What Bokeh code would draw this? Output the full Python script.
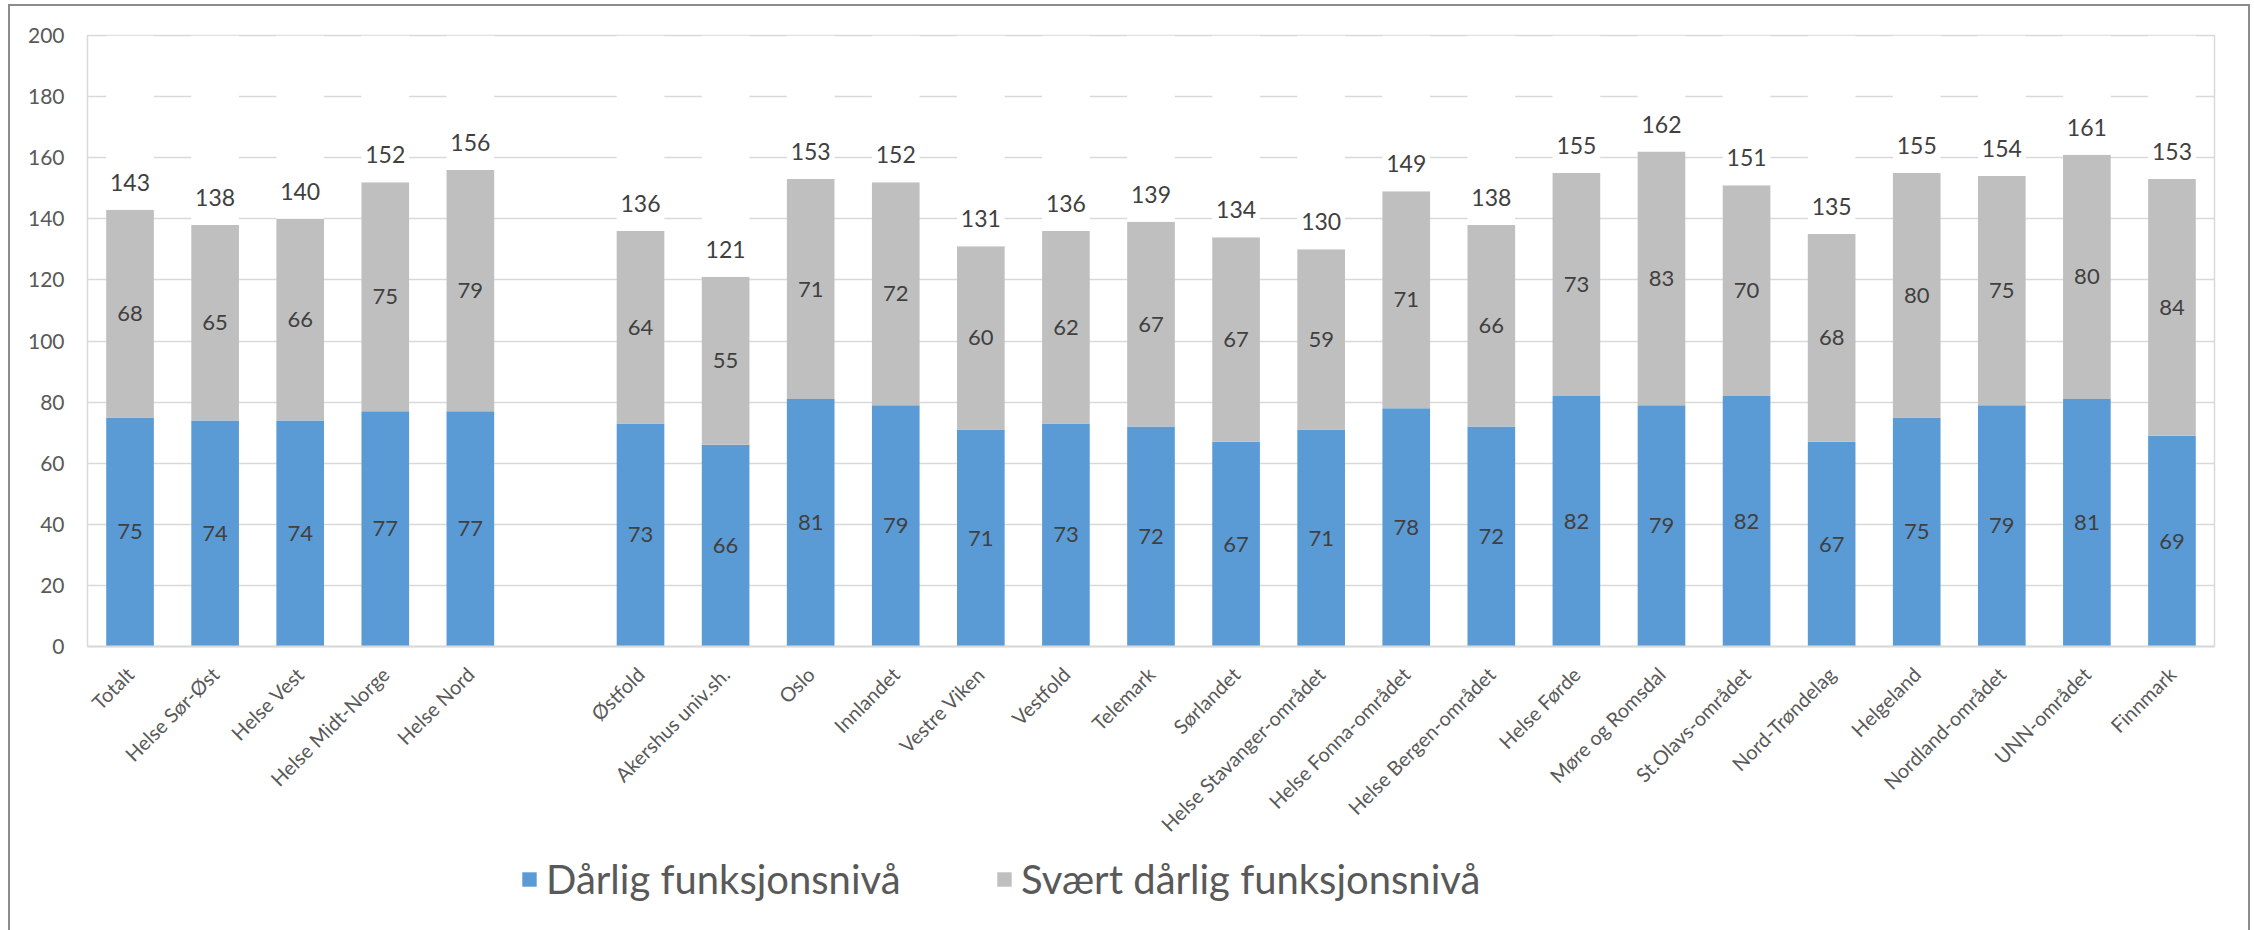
import math
from bokeh.plotting import figure
from bokeh.layouts import column
from bokeh.models import (ColumnDataSource, FactorRange, FixedTicker, Legend, LegendItem)
from bokeh.core.properties import value
from bokeh.embed import file_html
from bokeh.resources import INLINE

# ---------------- data ----------------
categories = ["Totalt", "Helse Sør-Øst", "Helse Vest", "Helse Midt-Norge", "Helse Nord", " ",
              "Østfold", "Akershus univ.sh.", "Oslo", "Innlandet", "Vestre Viken", "Vestfold",
              "Telemark", "Sørlandet", "Helse Stavanger-området", "Helse Fonna-området",
              "Helse Bergen-området", "Helse Førde", "Møre og Romsdal", "St.Olavs-området",
              "Nord-Trøndelag", "Helgeland", "Nordland-området", "UNN-området", "Finnmark"]
darlig = [75, 74, 74, 77, 77, None, 73, 66, 81, 79, 71, 73, 72, 67, 71, 78, 72, 82, 79, 82, 67, 75, 79, 81, 69]
svart_darlig = [68, 65, 66, 75, 79, None, 64, 55, 71, 72, 60, 62, 67, 67, 59, 71, 66, 73, 83, 70, 68, 80, 75, 80, 84]
total = [143, 138, 140, 152, 156, None, 136, 121, 153, 152, 131, 136, 139, 134, 130, 149, 138, 155, 162, 151, 135, 155, 154, 161, 153]
y_ticks = [0, 20, 40, 60, 80, 100, 120, 140, 160, 180, 200]
series_names = ["Dårlig funksjonsnivå", "Svært dårlig funksjonsnivå"]

BLUE = "#5B9BD5"
GRAY = "#BFBFBF"
FONT = "Lato"

cats = [c for c, d in zip(categories, darlig) if d is not None]
d_v = [d for d in darlig if d is not None]
s_v = [s for s in svart_darlig if s is not None]
t_v = [t for t in total if t is not None]
y_top = y_ticks[-1]

src = ColumnDataSource(dict(
    x=cats, d=d_v, s=s_v, t=t_v,
    top_white=[y_top] * len(cats),
    d_mid=[v / 2 for v in d_v],
    s_mid=[(a + b) / 2 for a, b in zip(d_v, t_v)],
    t_lab=[v + 9 for v in t_v],
    d_txt=[str(v) for v in d_v],
    s_txt=[str(v) for v in s_v],
    t_txt=[str(v) for v in t_v],
))

W = 2238
H_MAIN, H_LEG = 850, 74
p = figure(x_range=FactorRange(*categories), y_range=(0, y_top),
           width=W, height=H_MAIN, output_backend="svg", toolbar_location=None,
           min_border_left=77, min_border_right=34, min_border_top=29, min_border_bottom=210)

BW = 0.56
p.vbar(x="x", bottom=0, top="d", width=BW, source=src, fill_color=BLUE, line_color=None)
p.vbar(x="x", bottom="d", top="t", width=BW, source=src, fill_color=GRAY, line_color=None)
p.vbar(x="x", bottom="t", top="top_white", width=BW, source=src, fill_color="white", line_color=None)

lab_kw = dict(source=src, text_font=value(FONT), text_color="#404040", text_align="center")
p.text(x="x", y="d_mid", text="d_txt", text_baseline="middle", text_font_size="22px", **lab_kw)
p.text(x="x", y="s_mid", text="s_txt", text_baseline="middle", text_font_size="22px", **lab_kw)
p.text(x="x", y="t_lab", text="t_txt", text_baseline="alphabetic", text_font_size="23px", **lab_kw)

# axes / grid
p.yaxis.ticker = FixedTicker(ticks=y_ticks)
p.yaxis.axis_line_color = None
p.yaxis.major_tick_line_color = None
p.yaxis.minor_tick_line_color = None
p.yaxis.major_label_standoff = 17
p.yaxis.major_label_text_font = FONT
p.yaxis.major_label_text_font_size = "21px"
p.yaxis.major_label_text_color = "#595959"

p.xaxis.axis_line_color = "#D9D9D9"
p.xaxis.axis_line_width = 2
p.xaxis.major_tick_line_color = None
p.xaxis.major_label_orientation = math.pi / 4
p.xaxis.major_label_standoff = 18
p.xaxis.major_label_text_font = FONT
p.xaxis.major_label_text_font_size = "20px"
p.xaxis.major_label_text_color = "#595959"

p.xgrid.grid_line_color = None
p.ygrid.grid_line_color = "#D9D9D9"
p.ygrid.grid_line_width = 1.5
p.outline_line_color = "#D9D9D9"
p.outline_line_width = 1.5

# ---------------- legend strip ----------------
pl = figure(width=W, height=H_LEG, output_backend="svg", toolbar_location=None,
            x_range=(0, 1), y_range=(0, 1), x_axis_type=None, y_axis_type=None,
            min_border=0, outline_line_color=None)
pl.grid.visible = False
lr_blue = pl.vbar(x=[0], top=[0], width=0, fill_color=BLUE, line_color=None)
lr_gray = pl.vbar(x=[0], top=[0], width=0, fill_color=GRAY, line_color=None)

leg_kw = dict(orientation="horizontal", padding=0, margin=0,
              border_line_color=None, background_fill_alpha=0,
              glyph_width=18, glyph_height=18, label_standoff=8,
              label_text_font=FONT, label_text_font_size="40px", label_text_color="#595959")
leg1 = Legend(items=[LegendItem(label=series_names[0], renderers=[lr_blue])], location=(433, 27), **leg_kw)
leg2 = Legend(items=[LegendItem(label=series_names[1], renderers=[lr_gray])], location=(908, 27), **leg_kw)
pl.add_layout(leg1, "center")
pl.add_layout(leg2, "center")

layout = column(p, pl, spacing=0)
layout.styles = {"margin-left": "8px", "margin-top": "4px",
                 "border-top": "2px solid #8c8c8c", "border-left": "2px solid #8c8c8c",
                 "border-right": "2px solid #8c8c8c"}

open("out.html", "w").write(file_html(layout, INLINE))
